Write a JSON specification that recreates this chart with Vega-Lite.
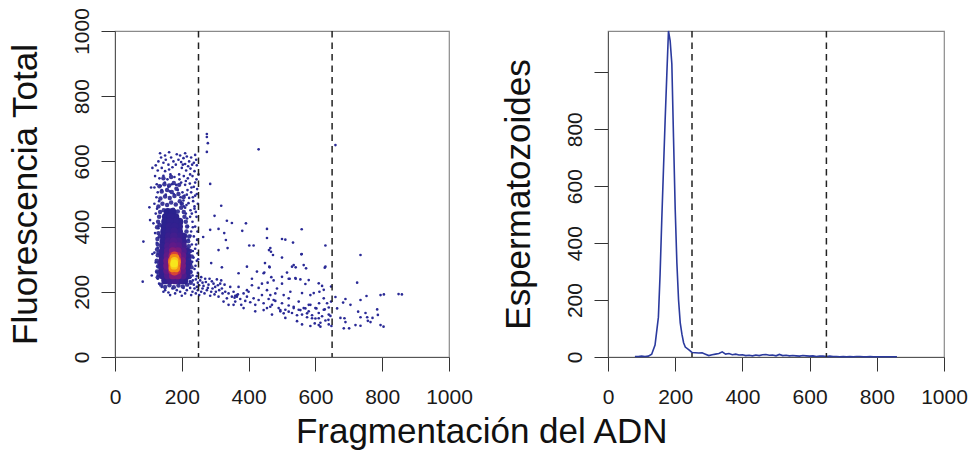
{
  "$schema": "https://vega.github.io/schema/vega-lite/v6.json",
  "background": "white",
  "padding": {"left": 7, "top": 7, "right": 5, "bottom": 5},
  "config": {
    "font": "Liberation Sans",
    "view": {"stroke": "#8a8a8a", "strokeWidth": 1.2},
    "axis": {"grid": false, "domainColor": "#555", "domainWidth": 1, "tickColor": "#333", "tickWidth": 1, "tickSize": 14, "labelFontSize": 21, "labelColor": "#1a1a1a", "titleFontSize": 35, "titleFontWeight": "normal", "titleColor": "#111", "labelFont": "Liberation Sans", "titleFont": "Liberation Sans", "format": "d"}
  },
  "title": {"text": "Fragmentación del ADN", "orient": "bottom", "anchor": "middle", "frame": "bounds", "fontSize": 35, "fontWeight": "normal", "font": "Liberation Sans", "color": "#111", "offset": 7, "dx": -6},
  "bounds": "flush",
  "spacing": 159,
  "datasets": {
    "cuts": [{"x": 250}, {"x": 650}],
    "halo": [
      {"x":138,"y":222},{"x":150,"y":215},{"x":163,"y":220},{"x":176,"y":214},{"x":190,"y":219},{"x":203,"y":216},{"x":216,"y":222},{"x":227,"y":228},
      {"x":128,"y":245},{"x":126,"y":262},{"x":129,"y":278},{"x":125,"y":295},{"x":128,"y":312},{"x":126,"y":330},{"x":131,"y":252},{"x":132,"y":288},{"x":130,"y":320},
      {"x":222,"y":245},{"x":226,"y":260},{"x":229,"y":275},{"x":224,"y":292},{"x":230,"y":308},{"x":225,"y":325},{"x":221,"y":340},{"x":219,"y":355},{"x":222,"y":370},{"x":215,"y":282},
      {"x":128,"y":345},{"x":127,"y":362},{"x":130,"y":380},{"x":126,"y":398},{"x":129,"y":415},{"x":132,"y":430},{"x":134,"y":370},{"x":133,"y":405},
      {"x":214,"y":385},{"x":216,"y":400},{"x":212,"y":415},{"x":208,"y":430},{"x":206,"y":445},{"x":210,"y":372},
      {"x":135,"y":445},{"x":146,"y":450},{"x":160,"y":448},{"x":174,"y":452},{"x":188,"y":446},{"x":198,"y":458},{"x":130,"y":462},{"x":142,"y":470},{"x":156,"y":466},{"x":168,"y":474},{"x":182,"y":468},{"x":194,"y":478},{"x":136,"y":486},{"x":150,"y":492},{"x":164,"y":488},{"x":178,"y":494},{"x":190,"y":500},{"x":140,"y":508},{"x":156,"y":512},{"x":170,"y":506},{"x":184,"y":516},{"x":133,"y":524},{"x":148,"y":530},{"x":162,"y":526},{"x":176,"y":534},{"x":192,"y":528},{"x":145,"y":548},{"x":168,"y":552},{"x":200,"y":470},{"x":205,"y":490}
    ],
    "cloud": [
      {"x":150,"y":235,"d":0.15},{"x":165,"y":235,"d":0.22},{"x":180,"y":235,"d":0.25},{"x":195,"y":235,"d":0.2},{"x":208,"y":235,"d":0.12},
      {"x":143,"y":250,"d":0.18},{"x":158,"y":250,"d":0.3},{"x":173,"y":250,"d":0.45},{"x":188,"y":250,"d":0.45},{"x":203,"y":250,"d":0.3},{"x":215,"y":250,"d":0.14},
      {"x":141,"y":265,"d":0.2},{"x":156,"y":265,"d":0.36},{"x":171,"y":265,"d":0.6},{"x":186,"y":265,"d":0.6},{"x":201,"y":265,"d":0.38},{"x":215,"y":265,"d":0.17},
      {"x":141,"y":280,"d":0.22},{"x":156,"y":280,"d":0.4},{"x":171,"y":280,"d":0.7},{"x":186,"y":280,"d":0.68},{"x":201,"y":280,"d":0.42},{"x":216,"y":280,"d":0.18},
      {"x":141,"y":295,"d":0.22},{"x":156,"y":295,"d":0.4},{"x":171,"y":295,"d":0.68},{"x":186,"y":295,"d":0.65},{"x":201,"y":295,"d":0.42},{"x":216,"y":295,"d":0.18},
      {"x":142,"y":310,"d":0.2},{"x":157,"y":310,"d":0.36},{"x":172,"y":310,"d":0.56},{"x":187,"y":310,"d":0.54},{"x":202,"y":310,"d":0.36},{"x":216,"y":310,"d":0.16},
      {"x":143,"y":325,"d":0.18},{"x":158,"y":325,"d":0.32},{"x":173,"y":325,"d":0.45},{"x":188,"y":325,"d":0.42},{"x":203,"y":325,"d":0.3},{"x":215,"y":325,"d":0.14},
      {"x":144,"y":340,"d":0.16},{"x":159,"y":340,"d":0.28},{"x":174,"y":340,"d":0.36},{"x":189,"y":340,"d":0.33},{"x":204,"y":340,"d":0.24},
      {"x":145,"y":355,"d":0.15},{"x":160,"y":355,"d":0.25},{"x":175,"y":355,"d":0.3},{"x":190,"y":355,"d":0.27},{"x":204,"y":355,"d":0.18},
      {"x":146,"y":370,"d":0.13},{"x":161,"y":370,"d":0.22},{"x":176,"y":370,"d":0.25},{"x":191,"y":370,"d":0.22},{"x":203,"y":370,"d":0.14},
      {"x":147,"y":385,"d":0.12},{"x":162,"y":385,"d":0.2},{"x":177,"y":385,"d":0.22},{"x":192,"y":385,"d":0.18},
      {"x":148,"y":400,"d":0.1},{"x":163,"y":400,"d":0.18},{"x":178,"y":400,"d":0.18},{"x":192,"y":400,"d":0.14},
      {"x":150,"y":415,"d":0.09},{"x":165,"y":415,"d":0.15},{"x":180,"y":415,"d":0.14},{"x":193,"y":415,"d":0.1},
      {"x":152,"y":430,"d":0.07},{"x":167,"y":430,"d":0.12},{"x":181,"y":430,"d":0.1},
      {"x":158,"y":445,"d":0.05},{"x":172,"y":445,"d":0.08},
      {"x":172,"y":280,"d":0.75},{"x":184,"y":280,"d":0.75},{"x":178,"y":262,"d":0.72},{"x":178,"y":312,"d":0.72},{"x":170,"y":296,"d":0.75},{"x":186,"y":296,"d":0.75},
      {"x":172,"y":272,"d":0.85},{"x":183,"y":272,"d":0.85},{"x":171,"y":290,"d":0.85},{"x":185,"y":290,"d":0.85},{"x":175,"y":304,"d":0.85},{"x":181,"y":304,"d":0.85},
      {"x":177,"y":280,"d":0.95},{"x":178,"y":295,"d":0.95},
      {"x":177,"y":287,"d":1}
    ],
    "pts": [
      {"x":122,"y":588},{"x":130,"y":600},{"x":138,"y":612},{"x":145,"y":596},{"x":152,"y":605},{"x":160,"y":590},{"x":168,"y":612},{"x":175,"y":600},{"x":128,"y":572},{"x":140,"y":580},{"x":150,"y":570},{"x":162,"y":575},{"x":172,"y":582},{"x":182,"y":590},{"x":120,"y":555},{"x":133,"y":548},{"x":145,"y":556},{"x":157,"y":545},{"x":166,"y":560},{"x":178,"y":552},{"x":125,"y":530},{"x":137,"y":525},{"x":149,"y":535},{"x":160,"y":522},{"x":170,"y":530},{"x":183,"y":528},{"x":128,"y":505},{"x":140,"y":512},{"x":152,"y":498},{"x":164,"y":508},{"x":176,"y":500},{"x":188,"y":512},
      {"x":195,"y":618},{"x":205,"y":610},{"x":215,"y":615},{"x":228,"y":612},{"x":240,"y":620},{"x":198,"y":598},{"x":210,"y":592},{"x":222,"y":600},{"x":236,"y":596},{"x":245,"y":588},{"x":200,"y":580},{"x":213,"y":572},{"x":226,"y":578},{"x":238,"y":570},{"x":192,"y":560},{"x":206,"y":555},{"x":218,"y":548},{"x":232,"y":555},{"x":244,"y":545},{"x":198,"y":535},{"x":210,"y":528},{"x":224,"y":532},{"x":236,"y":522},{"x":246,"y":515},{"x":202,"y":505},{"x":215,"y":498},{"x":228,"y":505},{"x":240,"y":495},{"x":205,"y":480},{"x":220,"y":472},{"x":234,"y":478},{"x":196,"y":490},{"x":248,"y":470},{"x":210,"y":458},{"x":226,"y":450},{"x":242,"y":445},
      {"x":190,"y":605},{"x":203,"y":590},{"x":219,"y":585},{"x":231,"y":590},{"x":243,"y":605},{"x":250,"y":560},{"x":225,"y":560},{"x":212,"y":540},{"x":240,"y":535},{"x":193,"y":545},{"x":229,"y":520},{"x":217,"y":512},{"x":245,"y":500},{"x":233,"y":490},{"x":208,"y":495},{"x":222,"y":488},{"x":199,"y":470},{"x":214,"y":466},{"x":238,"y":462},{"x":135,"y":625},{"x":150,"y":618},{"x":162,"y":628},{"x":185,"y":622},{"x":210,"y":625},{"x":108,"y":520},{"x":112,"y":580},{"x":105,"y":420},
      {"x":230,"y":440},{"x":238,"y":455},{"x":244,"y":430},{"x":233,"y":398},{"x":247,"y":385},{"x":226,"y":372},{"x":243,"y":345},{"x":233,"y":325},{"x":247,"y":318},{"x":231,"y":292},{"x":241,"y":280},{"x":249,"y":300},{"x":226,"y":245},{"x":245,"y":248},{"x":233,"y":235},
      {"x":118,"y":470},{"x":122,"y":440},{"x":115,"y":410},{"x":120,"y":380},{"x":125,"y":350},{"x":118,"y":320},{"x":122,"y":290},{"x":125,"y":260},{"x":128,"y":240},{"x":132,"y":225},{"x":126,"y":455},{"x":130,"y":395},{"x":128,"y":335},{"x":130,"y":275},{"x":124,"y":490},{"x":118,"y":520},{"x":132,"y":478},
      {"x":225,"y":430},{"x":232,"y":415},{"x":240,"y":400},{"x":228,"y":385},{"x":236,"y":370},{"x":246,"y":360},{"x":230,"y":345},{"x":240,"y":332},{"x":222,"y":320},{"x":235,"y":305},{"x":245,"y":295},{"x":228,"y":285},{"x":238,"y":270},{"x":248,"y":258},{"x":232,"y":250},{"x":242,"y":238},{"x":225,"y":232},{"x":236,"y":222},{"x":248,"y":228},{"x":218,"y":400},{"x":220,"y":360},{"x":224,"y":300},{"x":228,"y":262},{"x":212,"y":440},{"x":206,"y":462},{"x":216,"y":425},
      {"x":140,"y":215},{"x":150,"y":205},{"x":160,"y":198},{"x":172,"y":210},{"x":185,"y":205},{"x":195,"y":200},{"x":205,"y":212},{"x":215,"y":205},{"x":165,"y":190},{"x":180,"y":195},{"x":200,"y":188},{"x":145,"y":200},{"x":225,"y":212},{"x":210,"y":195},
      {"x":85,"y":354},{"x":83,"y":231},{"x":103,"y":459},{"x":112,"y":316},{"x":110,"y":250},
      {"x":275,"y":684},{"x":275,"y":675},{"x":278,"y":656},{"x":275,"y":629},{"x":430,"y":637},{"x":660,"y":650},{"x":285,"y":531},
      {"x":318,"y":464},{"x":298,"y":433},{"x":335,"y":418},{"x":350,"y":411},{"x":392,"y":410},{"x":285,"y":390},{"x":310,"y":393},{"x":327,"y":380},{"x":264,"y":368},{"x":246,"y":359},{"x":381,"y":387},{"x":402,"y":342},{"x":415,"y":342},{"x":455,"y":393},{"x":455,"y":365},{"x":500,"y":362},{"x":510,"y":360},{"x":559,"y":392},{"x":533,"y":351},{"x":465,"y":334},{"x":467,"y":323},{"x":473,"y":313},{"x":558,"y":315},{"x":337,"y":334},{"x":332,"y":359},{"x":310,"y":328},{"x":288,"y":288},{"x":320,"y":275},{"x":395,"y":277},{"x":370,"y":257},{"x":425,"y":262},{"x":445,"y":257},{"x":462,"y":277},{"x":500,"y":246},{"x":530,"y":277},{"x":565,"y":282},{"x":540,"y":242},{"x":555,"y":238},{"x":580,"y":236},{"x":610,"y":226},{"x":595,"y":196},{"x":560,"y":196},
      {"x":735,"y":313},{"x":725,"y":228},{"x":805,"y":192},{"x":859,"y":192},{"x":785,"y":146},{"x":787,"y":129},{"x":735,"y":122},{"x":755,"y":122},{"x":757,"y":111},{"x":728,"y":139},{"x":687,"y":119},{"x":685,"y":88},{"x":701,"y":88},{"x":735,"y":96},{"x":804,"y":93},{"x":690,"y":178},{"x":683,"y":167},{"x":665,"y":149},{"x":630,"y":342},{"x":628,"y":274},{"x":647,"y":216},
      {"x":461,"y":328},{"x":559,"y":316},{"x":500,"y":305},{"x":449,"y":288},{"x":535,"y":282},{"x":541,"y":275},{"x":572,"y":272},{"x":630,"y":277},{"x":463,"y":275},{"x":515,"y":259},{"x":447,"y":259},{"x":468,"y":245},{"x":523,"y":240},{"x":541,"y":240},{"x":457,"y":228},{"x":570,"y":224},{"x":620,"y":218},{"x":625,"y":206},{"x":585,"y":190},{"x":625,"y":180},{"x":635,"y":165},{"x":611,"y":165},{"x":603,"y":149},{"x":585,"y":160},{"x":570,"y":149},{"x":555,"y":144},{"x":535,"y":154},{"x":520,"y":139},{"x":505,"y":134},{"x":495,"y":144},{"x":475,"y":175},{"x":465,"y":154},{"x":445,"y":144},{"x":575,"y":134},{"x":590,"y":119},{"x":610,"y":119},{"x":615,"y":93},{"x":610,"y":98},{"x":585,"y":95},{"x":598,"y":103},{"x":645,"y":126},{"x":628,"y":146},{"x":640,"y":152},{"x":647,"y":170},
      {"x":612,"y":200},{"x":660,"y":184},{"x":675,"y":120},{"x":705,"y":160},{"x":750,"y":135},{"x":765,"y":107},{"x":795,"y":190},{"x":795,"y":98},{"x":849,"y":193},{"x":735,"y":175},{"x":720,"y":98},{"x":690,"y":107},{"x":639,"y":114},{"x":771,"y":120},{"x":753,"y":187},
      {"x":255,"y":235},{"x":262,"y":228},{"x":270,"y":240},{"x":280,"y":222},{"x":290,"y":232},{"x":300,"y":215},{"x":305,"y":238},{"x":315,"y":225},{"x":262,"y":210},{"x":275,"y":205},{"x":288,"y":200},{"x":298,"y":192},{"x":320,"y":210},{"x":330,"y":200},{"x":340,"y":195},{"x":310,"y":185},{"x":268,"y":195},{"x":285,"y":188},{"x":252,"y":220},{"x":258,"y":200},{"x":345,"y":215},{"x":355,"y":200},{"x":335,"y":180},{"x":350,"y":185},{"x":365,"y":190},{"x":375,"y":178},{"x":360,"y":170},{"x":385,"y":195},{"x":395,"y":185},{"x":378,"y":160},{"x":390,"y":172},{"x":405,"y":168},{"x":415,"y":180},{"x":420,"y":160},{"x":430,"y":175},{"x":440,"y":190},{"x":445,"y":165},{"x":455,"y":150},{"x":460,"y":178},{"x":470,"y":160},{"x":480,"y":172},{"x":490,"y":150},{"x":495,"y":140},{"x":500,"y":165},{"x":510,"y":145},{"x":520,"y":158},{"x":530,"y":135},{"x":535,"y":150},{"x":545,"y":128},{"x":550,"y":145},{"x":560,"y":130},{"x":565,"y":150},{"x":575,"y":122},{"x":580,"y":140},{"x":590,"y":128},{"x":600,"y":118},{"x":610,"y":135},{"x":620,"y":125},{"x":630,"y":112},{"x":640,"y":130},{"x":600,"y":150},{"x":580,"y":160},{"x":550,"y":170},{"x":520,"y":180},{"x":480,"y":195},{"x":455,"y":205},{"x":430,"y":212},{"x":410,"y":220},{"x":400,"y":200},{"x":370,"y":215},{"x":325,"y":170},{"x":340,"y":160},{"x":420,"y":140},{"x":470,"y":130},{"x":510,"y":120},{"x":545,"y":110},{"x":560,"y":100},{"x":615,"y":105},{"x":625,"y":145},{"x":640,"y":100},{"x":648,"y":95},{"x":385,"y":150},{"x":355,"y":160},{"x":395,"y":205},{"x":465,"y":190},{"x":505,"y":190},{"x":525,"y":200},{"x":485,"y":210},{"x":440,"y":225},{"x":410,"y":240},{"x":500,"y":225},{"x":520,"y":240},{"x":475,"y":235},
      {"x":245,"y":215},{"x":248,"y":205},{"x":252,"y":190},{"x":258,"y":245},{"x":265,"y":218},{"x":272,"y":230},{"x":278,"y":212},{"x":283,"y":240},{"x":292,"y":210},{"x":295,"y":225},{"x":302,"y":200},{"x":308,"y":220},{"x":312,"y":205},{"x":318,"y":235},{"x":322,"y":195},{"x":328,"y":222},{"x":238,"y":210},{"x":242,"y":195},{"x":232,"y":200},{"x":228,"y":190},{"x":360,"y":188},{"x":365,"y":185},{"x":368,"y":192},{"x":358,"y":182}
    ],
    "hist": [
      {"x":80,"y":2},{"x":90,"y":2},{"x":100,"y":3},{"x":110,"y":2},{"x":120,"y":3},{"x":130,"y":10},{"x":140,"y":42},{"x":150,"y":140},{"x":155,"y":290},{"x":160,"y":480},{"x":165,"y":656},{"x":170,"y":830},{"x":175,"y":990},{"x":180,"y":1145},{"x":185,"y":1110},{"x":190,"y":1030},{"x":195,"y":770},{"x":200,"y":520},{"x":205,"y":330},{"x":210,"y":200},{"x":215,"y":120},{"x":220,"y":80},{"x":225,"y":50},{"x":230,"y":35},{"x":240,"y":26},{"x":250,"y":16},{"x":260,"y":15},{"x":270,"y":14},{"x":280,"y":15},{"x":290,"y":10},{"x":300,"y":5},{"x":310,"y":8},{"x":320,"y":10},{"x":330,"y":12},{"x":340,"y":18},{"x":350,"y":10},{"x":360,"y":12},{"x":370,"y":8},{"x":380,"y":10},{"x":390,"y":7},{"x":400,"y":8},{"x":410,"y":5},{"x":420,"y":6},{"x":430,"y":4},{"x":440,"y":7},{"x":450,"y":5},{"x":460,"y":8},{"x":470,"y":9},{"x":480,"y":6},{"x":490,"y":7},{"x":500,"y":4},{"x":510,"y":9},{"x":520,"y":5},{"x":530,"y":6},{"x":540,"y":4},{"x":550,"y":5},{"x":560,"y":4},{"x":570,"y":3},{"x":580,"y":5},{"x":590,"y":4},{"x":600,"y":3},{"x":610,"y":4},{"x":620,"y":2},{"x":630,"y":3},{"x":640,"y":3},{"x":650,"y":2},{"x":660,"y":3},{"x":670,"y":2},{"x":680,"y":2},{"x":690,"y":1},{"x":700,"y":2},{"x":710,"y":1},{"x":720,"y":2},{"x":730,"y":1},{"x":740,"y":2},{"x":750,"y":2},{"x":760,"y":1},{"x":770,"y":1},{"x":780,"y":2},{"x":790,"y":1},{"x":800,"y":1},{"x":810,"y":1},{"x":820,"y":1},{"x":830,"y":1},{"x":840,"y":1},{"x":850,"y":1},{"x":860,"y":1}
    ]
  },
  "hconcat": [
    {
      "width": 334,
      "height": 326,
      "encoding": {
        "x": {"field": "x", "type": "quantitative", "scale": {"domain": [0, 1000], "nice": false, "zero": false},
              "axis": {"values": [0, 200, 400, 600, 800, 1000], "format": "d", "title": null, "labelAngle": 0, "labelBaseline": "top", "labelAlign": "center", "labelPadding": 15, "labelFlush": false, "labelOverlap": false}}
      },
      "layer": [
        {
          "data": {"name": "halo"},
          "mark": {"type": "circle", "size": 20, "color": "#28248f", "opacity": 0.9},
          "encoding": {
            "y": {"field": "y", "type": "quantitative", "scale": {"domain": [0, 1000], "nice": false},
                  "axis": {"values": [0, 200, 400, 600, 800, 1000], "format": "d", "title": "Fluorescencia Total", "labelAngle": -90, "labelAlign": "center", "labelBaseline": "bottom", "labelPadding": 9, "labelFlush": false, "labelOverlap": false, "titlePadding": 28}}
          }
        },
        {
          "data": {"name": "cloud"},
          "mark": {"type": "circle", "size": 60, "opacity": 1},
          "encoding": {
            "y": {"field": "y", "type": "quantitative", "scale": {"domain": [0, 1000], "nice": false},
                  "axis": {"values": [0, 200, 400, 600, 800, 1000], "format": "d", "title": "Fluorescencia Total", "labelAngle": -90, "labelAlign": "center", "labelBaseline": "bottom", "labelPadding": 9, "labelFlush": false, "labelOverlap": false, "titlePadding": 28}},
            "color": {"field": "d", "type": "quantitative", "legend": null,
                      "scale": {"domain": [0, 0.2, 0.35, 0.5, 0.7, 0.85, 1], "range": ["#23238e", "#33208f", "#5a1a8a", "#931c6e", "#d4353a", "#f28c16", "#f7e61c"], "interpolate": "lab"}},
            "order": {"field": "d", "type": "quantitative", "sort": "ascending"}
          }
        },
        {
          "data": {"name": "pts"},
          "mark": {"type": "circle", "size": 7, "color": "#2a2a96", "opacity": 1},
          "encoding": {
            "y": {"field": "y", "type": "quantitative", "scale": {"domain": [0, 1000], "nice": false},
                  "axis": {"values": [0, 200, 400, 600, 800, 1000], "format": "d", "title": "Fluorescencia Total", "labelAngle": -90, "labelAlign": "center", "labelBaseline": "bottom", "labelPadding": 9, "labelFlush": false, "labelOverlap": false, "titlePadding": 28}}
          }
        },
        {
          "data": {"name": "cuts"},
          "mark": {"type": "rule", "color": "#222", "strokeWidth": 1.5, "strokeDash": [6.5, 5]},
          "encoding": {}
        }
      ]
    },
    {
      "width": 336,
      "height": 326,
      "encoding": {
        "x": {"field": "x", "type": "quantitative", "scale": {"domain": [0, 1000], "nice": false, "zero": false},
              "axis": {"values": [0, 200, 400, 600, 800, 1000], "format": "d", "title": null, "labelAngle": 0, "labelBaseline": "top", "labelAlign": "center", "labelPadding": 15, "labelFlush": false, "labelOverlap": false}}
      },
      "layer": [
        {
          "data": {"name": "hist"},
          "mark": {"type": "line", "color": "#2b3a9e", "strokeWidth": 1.6},
          "encoding": {
            "y": {"field": "y", "type": "quantitative", "scale": {"domain": [0, 1145], "nice": false},
                  "axis": {"values": [0, 200, 400, 600, 800, 1000], "labelExpr": "datum.value == 1000 ? '' : datum.label", "format": "d", "title": "Espermatozoides", "labelAngle": -90, "labelAlign": "center", "labelBaseline": "bottom", "labelPadding": 9, "labelFlush": false, "labelOverlap": false, "titlePadding": 28}}
          }
        },
        {
          "data": {"name": "cuts"},
          "mark": {"type": "rule", "color": "#222", "strokeWidth": 1.5, "strokeDash": [6.5, 5]},
          "encoding": {}
        }
      ]
    }
  ]
}
